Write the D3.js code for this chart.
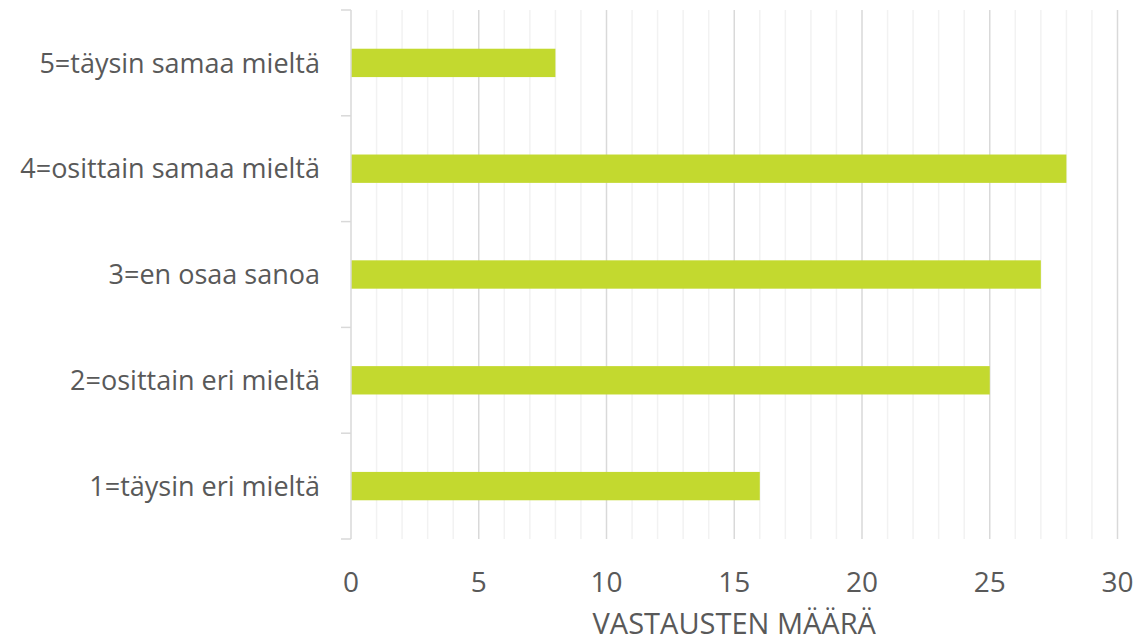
<!DOCTYPE html>
<html>
<head>
<meta charset="utf-8">
<script src="https://cdn.jsdelivr.net/npm/d3@7"></script>
<style>
  body { margin: 0; background: #fff; }
  text { font-family: "Open Sans", "Noto Sans", sans-serif; fill: #595959; }
</style>
</head>
<body>
<svg id="chart" width="1140" height="641"></svg>
<script>
const categories = [
  "5=täysin samaa mieltä",
  "4=osittain samaa mieltä",
  "3=en osaa sanoa",
  "2=osittain eri mieltä",
  "1=täysin eri mieltä"
];
const counts = [8, 28, 27, 25, 16];
const xTicks = [0, 5, 10, 15, 20, 25, 30];
const xTitle = "VASTAUSTEN MÄÄRÄ";

const margin = { top: 10, right: 22, bottom: 102, left: 351 };
const width = 1140;
const height = 641;

const svg = d3.select("#chart");

const x = d3.scaleLinear()
  .domain([0, 30])
  .range([margin.left, width - margin.right - 0.5]);

const y = d3.scaleBand()
  .domain(categories)
  .range([margin.top, height - margin.bottom])
  .paddingInner(0.732)
  .paddingOuter(0.366);

const yFull = d3.scaleBand()
  .domain(categories)
  .range([margin.top, height - margin.bottom]);

// Minor gridlines
svg.append("g")
  .selectAll("line")
  .data(d3.range(1, 31).filter(d => d % 5 !== 0))
  .enter()
  .append("line")
  .attr("x1", d => x(d))
  .attr("x2", d => x(d))
  .attr("y1", margin.top)
  .attr("y2", height - margin.bottom)
  .style("stroke", "#f2f2f2")
  .style("stroke-width", "1.5px");

// Major gridlines
svg.append("g")
  .selectAll("line")
  .data(xTicks.slice(1))
  .enter()
  .append("line")
  .attr("x1", d => x(d))
  .attr("x2", d => x(d))
  .attr("y1", margin.top)
  .attr("y2", height - margin.bottom)
  .style("stroke", "#d9d9d9")
  .style("stroke-width", "1.5px");

// Bars
svg.append("g")
  .selectAll("rect")
  .data(categories)
  .enter()
  .append("rect")
  .attr("x", x(0))
  .attr("y", d => y(d))
  .attr("height", y.bandwidth())
  .attr("width", (d, i) => x(counts[i]) - x(0))
  .style("fill", "#c3d92f");

// Y axis line and tick marks
const yAxis = svg.append("g");
yAxis.append("line")
  .attr("x1", x(0))
  .attr("x2", x(0))
  .attr("y1", margin.top)
  .attr("y2", height - margin.bottom)
  .style("stroke", "#d9d9d9")
  .style("stroke-width", "1.5px");

const boundaries = categories.map(c => yFull(c)).concat([height - margin.bottom]);
yAxis.selectAll(".tick")
  .data(boundaries)
  .enter()
  .append("line")
  .attr("class", "tick")
  .attr("x1", x(0) - 10)
  .attr("x2", x(0))
  .attr("y1", d => d)
  .attr("y2", d => d)
  .style("stroke", "#d9d9d9")
  .style("stroke-width", "1.5px");

// Category labels
svg.append("g")
  .selectAll("text")
  .data(categories)
  .enter()
  .append("text")
  .attr("x", 320)
  .attr("y", d => y(d) + y.bandwidth() / 2)
  .attr("dy", "0.36em")
  .attr("text-anchor", "end")
  .style("font-size", "27px")
  .text(d => d);

// X tick labels
svg.append("g")
  .selectAll("text")
  .data(xTicks)
  .enter()
  .append("text")
  .attr("x", d => x(d))
  .attr("y", 592)
  .attr("text-anchor", "middle")
  .style("font-size", "28px")
  .text(d => d);

// X axis title
svg.append("text")
  .attr("x", (x(0) + x(30)) / 2)
  .attr("y", 634)
  .attr("text-anchor", "middle")
  .style("font-size", "29px")
  .text(xTitle);
</script>
</body>
</html>
